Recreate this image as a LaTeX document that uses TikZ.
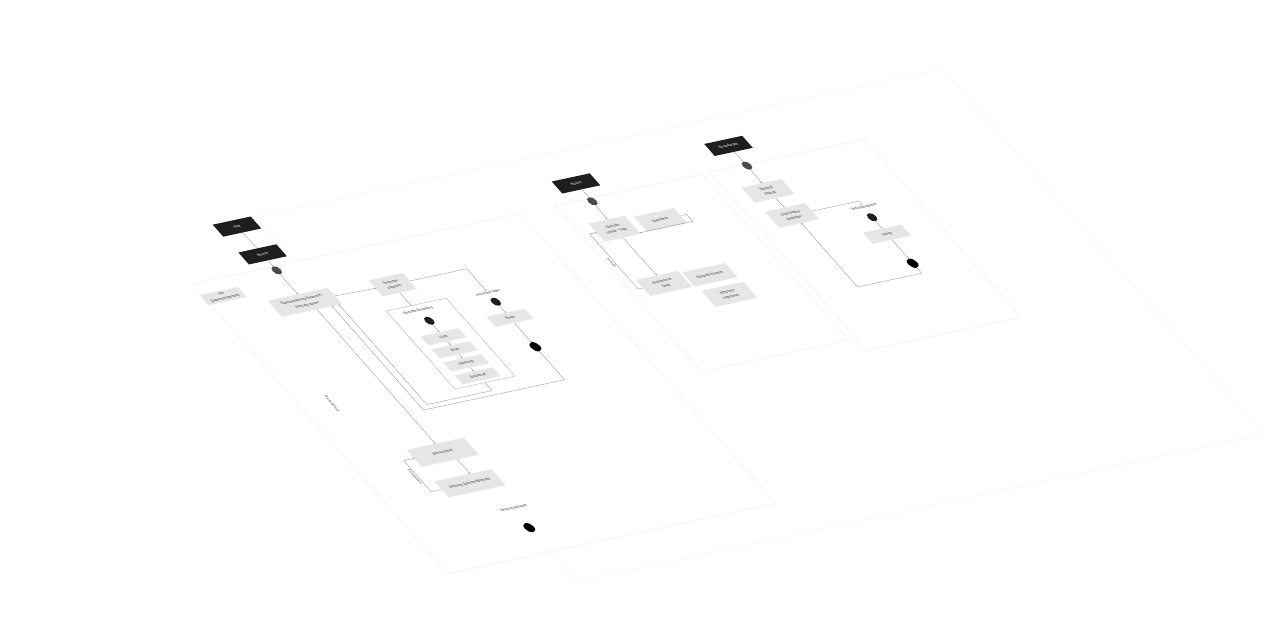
\documentclass[tikz,border=0pt]{standalone}
\usepackage{fontspec}
\setmainfont{Liberation Sans}
\usetikzlibrary{calc}
\usetikzlibrary{arrows,decorations.markings}

\definecolor{tabblack}{HTML}{1E1E1E}
\definecolor{boxgray}{HTML}{E6E6E6}
\definecolor{textgray}{HTML}{3A3A3A}
\definecolor{linegray}{HTML}{8C8C8C}
\definecolor{framegray}{HTML}{A8A8A8}
\definecolor{panelgray}{HTML}{EEEEEE}
\definecolor{planegray}{HTML}{F4F4F4}
\definecolor{dotgray}{HTML}{4A4A4A}

\newcommand{\flowfont}{\fontsize{3.1}{4.6}\selectfont}

\begin{document}
\begin{tikzpicture}[x=1pt, y=1pt,
	tab/.style={fill=tabblack, text=white, minimum width=38pt, minimum height=12pt, inner sep=0pt, font=\flowfont},
	flowbox/.style={fill=boxgray, text=textgray, inner sep=0pt, align=center, font=\flowfont},
	startdot/.style={circle, fill=dotgray, minimum size=8pt, inner sep=0pt},
	enddot/.style={circle, fill=black, minimum size=9pt, inner sep=0pt},
	panel/.style={draw=panelgray, fill=white, line width=0.4pt},
	sublabel/.style={font=\flowfont, text=textgray, inner sep=0.5pt},
	link/.style={draw=linegray, line width=0.3pt},
	flowarrow/.style={link, decoration={markings,mark=at position 1 with {\arrow[scale=0.5,>=stealth]{>}}},postaction={decorate}}]

	\fill[white] (0pt,0pt) rectangle (1280pt,-630pt);
	\useasboundingbox (0pt,0pt) rectangle (1280pt,-630pt);

	\begin{scope}[cm={1,0.215,-0.88,1,(235pt,-227pt)}, every node/.append style={transform shape}]
		% planes
		\draw[panel, draw=planegray] (25,5) rectangle (712,-360);
		\draw[panel] (-78,-40) rectangle (250,-330);
		\draw[panel] (285,-40) rectangle (432,-206);
		\draw[panel] (440,-40) rectangle (594,-218);

		% Messen
		\node[tab] (start) at (2,0) {Start};
		\node[tab] (messen) at (3,-28) {Messen};
		\node[startdot] (dotM) at (3,-44) {};
		\node[flowbox, font=\fontsize{3.1}{5.6}\selectfont, minimum width=60pt, minimum height=16pt] (exp) at (3,-76) {Experimentierung Parameter +\\Messung starten};
		\node[flowbox, minimum width=38pt, minimum height=10pt] (info) at (-61,-56) {Info\\(Datenmanagement)};
		\node[flowbox, minimum width=34pt, minimum height=16pt] (param) at (90,-77) {Parameter\\anpassen};

		\node[panel, draw=framegray, line width=0.3pt, minimum width=60pt, minimum height=78pt, inner sep=0pt] (manuell) at (95,-137) {};
		\node[sublabel] (manlabel) at (92,-103.5) {Manuelle Einstellung};
		\node[startdot, fill=tabblack] (dotE) at (94,-114) {};
		\node[flowbox, minimum width=38pt, minimum height=9pt] (uset) at (94,-130) {U-Set};
		\node[flowbox, minimum width=38pt, minimum height=9pt] (strom) at (94,-143) {Strom};
		\node[flowbox, minimum width=38pt, minimum height=9pt] (spann) at (94,-156) {Spannung};
		\node[flowbox, minimum width=38pt, minimum height=9pt] (zeit) at (94,-169) {Zeitintervall};

		\node[sublabel] (presetlabel) at (164,-101) {Aus Preset laden};
		\node[startdot, fill=tabblack] (dotP) at (164,-110) {};
		\node[flowbox, minimum width=38pt, minimum height=10pt] (preset) at (164,-126) {Preset};
		\node[enddot] (endP) at (164,-155) {};

		\node[sublabel, rotate=-90] (ablauf) at (-49,-166) {Messablauf};

		\node[flowbox, minimum width=57pt, minimum height=17pt] (laeuft) at (8,-227) {Messung läuft};
		\node[flowbox, minimum width=57pt, minimum height=16pt] (speichern) at (8,-258) {Messung Speichern/Beenden};
		\node[sublabel] (stopplabel) at (26,-287) {Messung gestoppt};
		\node[enddot] (endM) at (25,-306) {};

		% Historie
		\node[tab] (hist) at (319,-25) {Historie};
		\node[startdot] (dotH) at (319.5,-43) {};
		\node[flowbox, minimum width=36pt, minimum height=18pt] (uebersicht) at (318,-70) {Übersicht\\Verlauf + Tags};
		\node[flowbox, minimum width=40pt, minimum height=15pt] (export) at (363,-71) {Exportieren};
		\node[flowbox, minimum width=42pt, minimum height=16pt] (detail) at (319,-125) {Messreihe im\\Detail};
		\node[flowbox, minimum width=43pt, minimum height=14pt] (loeschen) at (364,-126) {Messreihe löschen};
		\node[flowbox, minimum width=42pt, minimum height=16pt] (mrexport) at (366,-146) {Messreihe\\exportieren};

		% Einstellungen
		\node[tab] (ein) at (475,-21) {Einstellungen};
		\node[startdot] (dotS) at (476,-41) {};
		\node[flowbox, minimum width=40pt, minimum height=15pt] (uebset) at (475,-66) {Übersicht\\Settings};
		\node[flowbox, minimum width=40pt, minimum height=16pt] (detailset) at (477,-91) {Detail Setting\\bearbeiten};
		\node[sublabel] (setlabel) at (543.6,-97) {Setting bearbeiten};
		\node[startdot, fill=tabblack] (dotS2) at (543,-107) {};
		\node[flowbox, minimum width=38pt, minimum height=11pt] (setting) at (543,-124) {Setting};
		\node[enddot] (endS) at (543,-153) {};

		% corner points of the connectors
		\coordinate (paramR) at (164,-77);
		\coordinate (manTop) at (90,-98);
		\coordinate (innerA) at (95,-184);
		\coordinate (innerB) at (30,-184);
		\coordinate (innerC) at (30,-84);
		\coordinate (outA) at (164,-188);
		\coordinate (outB) at (23,-188);
		\coordinate (outC) at (23,-84);
		\coordinate (expOut) at (8,-84);
		\coordinate (laeuftOut) at (15,-235.5);
		\coordinate (speichernIn) at (15,-250);
		\coordinate (fortA) at (-31,-258);
		\coordinate (fortB) at (-31,-227);
		\coordinate (expoA) at (389,-71);
		\coordinate (expoB) at (389,-78);
		\coordinate (expoC) at (336,-78);
		\coordinate (zurA) at (293,-125);
		\coordinate (zurB) at (293,-70);
		\coordinate (setA) at (543.6,-91);
		\coordinate (setB) at (543,-163);
		\coordinate (setC) at (479,-163);
		\coordinate (setD) at (479,-99);

		\draw[link] (start) -- (messen);
		\draw[link] (messen) -- (dotM);
		\draw[flowarrow] (dotM) -- (exp);
		\draw[flowarrow] (exp.east) -- (param.west);
		\draw[flowarrow] (param.east) -- (paramR) -- (presetlabel.north);
		\draw[flowarrow] (param.south) -- (manTop);

		\draw[flowarrow] (dotE) -- (uset);
		\draw[flowarrow] (uset) -- (strom);
		\draw[flowarrow] (strom) -- (spann);
		\draw[flowarrow] (spann) -- (zeit);

		\draw[flowarrow] (dotP) -- (preset);
		\draw[flowarrow] (preset) -- (endP);

		\draw[flowarrow] (manuell.south) -- (innerA) -- (innerB) -- (innerC);
		\draw[flowarrow] (endP) -- (outA) -- (outB) -- (outC);

		\draw[flowarrow] (expOut) -- (laeuft.north);
		\draw[flowarrow] (laeuftOut) -- (speichernIn);
		\draw[flowarrow] (speichern.west) -- (fortA) -- (fortB) -- (laeuft.west);
		\node[sublabel, rotate=-90] (fortlabel) at (-33.5,-242.5) {Fortsetzen};

		\draw[link] (hist) -- (dotH);
		\draw[flowarrow] (dotH) -- (uebersicht);
		\draw[flowarrow] (uebersicht) -- (detail);
		\draw[flowarrow] (export.east) -- (expoA) -- (expoB) -- (expoC);
		\draw[flowarrow] (detail.west) -- (zurA) -- (zurB) -- (uebersicht.west);
		\node[sublabel, rotate=-90] (zurlabel) at (290.5,-98) {zurück};

		\draw[link] (ein) -- (dotS);
		\draw[flowarrow] (dotS) -- (uebset);
		\draw[flowarrow] (uebset) -- (detailset);
		\draw[flowarrow] (detailset.east) -- (setA) -- (setlabel.north);
		\draw[flowarrow] (dotS2) -- (setting);
		\draw[flowarrow] (setting) -- (endS);
		\draw[flowarrow] (endS) -- (setB) -- (setC) -- (setD);
	\end{scope}
\end{tikzpicture}
\end{document}
